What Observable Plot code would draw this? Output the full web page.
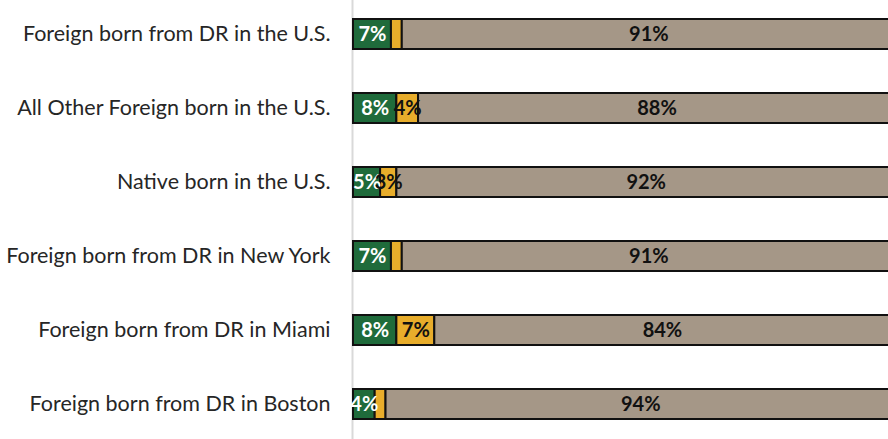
<!DOCTYPE html>
<html>
<head>
<meta charset="utf-8">
<script src="https://cdn.jsdelivr.net/npm/d3@7"></script>
<script src="https://cdn.jsdelivr.net/npm/@observablehq/plot@0.6"></script>
<style>
  html, body { margin: 0; padding: 0; background: #fff; overflow: hidden; }
  #chart { width: 888px; height: 439px; overflow: hidden; }
  #chart svg { display: block; overflow: visible; }
</style>
</head>
<body>
<div id="chart"></div>
<script>
const categories = [
  "Foreign born from DR in the U.S.",
  "All Other Foreign born in the U.S.",
  "Native born in the U.S.",
  "Foreign born from DR in New York",
  "Foreign born from DR in Miami",
  "Foreign born from DR in Boston"
];
const seriesNames = ["Series A", "Series B", "Series C"];
const greenValues = [7, 8, 5, 7, 8, 4];
const yellowValues = [2, 4, 3, 2, 7, 2];
const greyValues = [91, 88, 92, 91, 84, 94];
const seriesColors = ["#1f6b3b", "#e8ad2b", "#a59787"];
const labelColors = ["#ffffff", "#111111", "#111111"];

const table = [];
categories.forEach((c, i) => {
  [greenValues, yellowValues, greyValues].forEach((vals, s) => {
    table.push({category: c, series: seriesNames[s], value: vals[i], order: s});
  });
});

const chart = Plot.plot({
  width: 888,
  height: 439,
  marginLeft: 353,
  marginRight: 0,
  marginTop: 0,
  marginBottom: 0,
  style: {fontFamily: "Lato, sans-serif", background: "#fff", overflow: "visible"},
  x: {domain: [0, 100], range: [353, 895], axis: null},
  y: {domain: categories, range: [-4.2, 442.2], paddingInner: 0.6, paddingOuter: 0.3, label: null},
  color: {domain: seriesNames, range: seriesColors},
  marks: [
    Plot.ruleX([0], {stroke: "#d9d9d9", strokeWidth: 2, dx: -1}),
    Plot.axisY({tickSize: 0, tickPadding: 23, fontSize: 21.5, fill: "#262626", label: null}),
    Plot.barX(table, Plot.stackX({
      x: "value", y: "category", fill: "series", order: "order",
      stroke: "#111", strokeWidth: 2
    })),
    Plot.text(table, Plot.stackX({
      x: "value", y: "category", order: "order",
      text: d => d.value >= 3 ? d.value + "%" : "",
      fill: d => labelColors[d.order],
      fontSize: 20, fontWeight: "bold"
    }))
  ]
});
document.getElementById("chart").appendChild(chart);
</script>
</body>
</html>
